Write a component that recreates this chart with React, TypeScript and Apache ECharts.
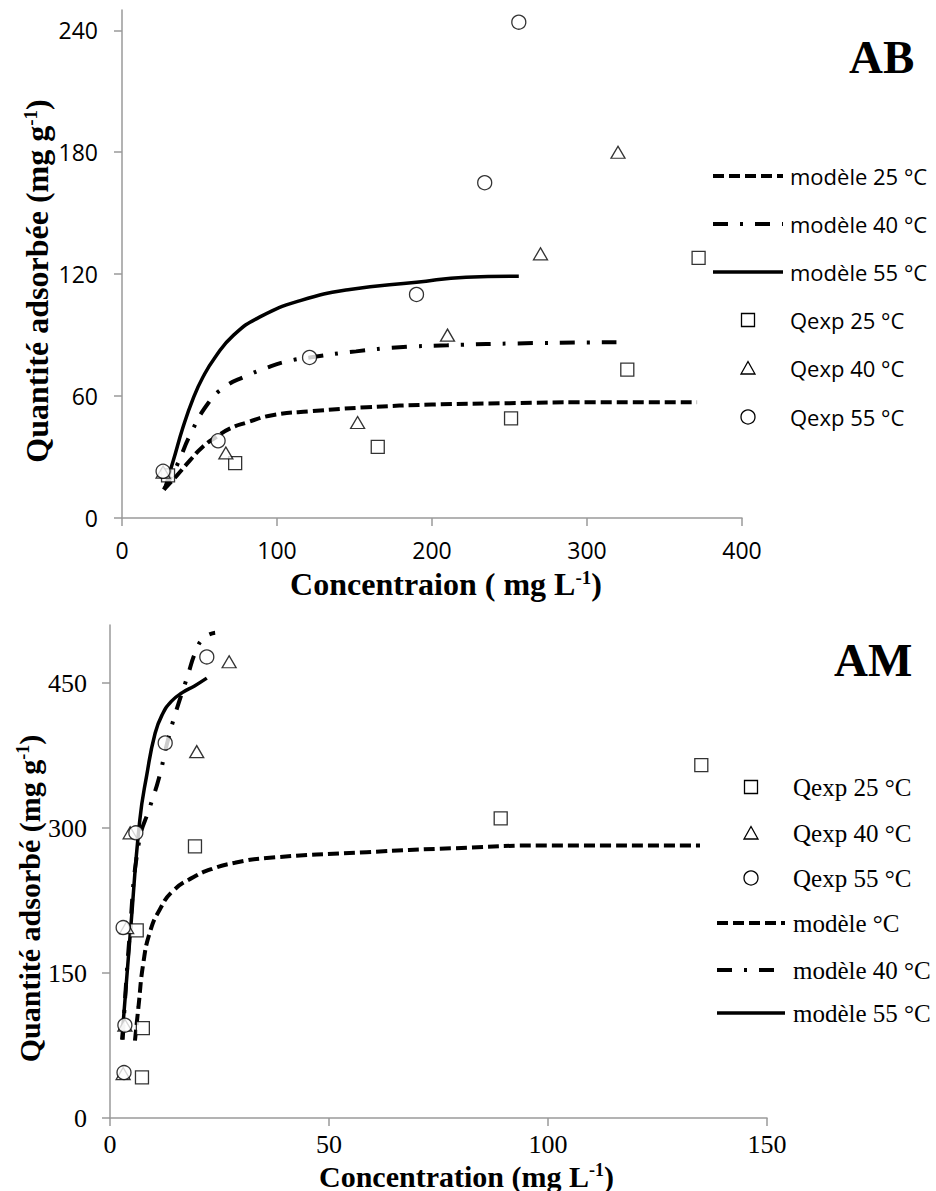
import React, { useEffect, useRef } from "react";
import * as echarts from "echarts";

// ---------- Chart AB ----------
const abTitle = "AB";
const abXTicks = [0, 100, 200, 300, 400];
const abYTicks = [0, 60, 120, 180, 240];
const abModelNames = ["modèle 25 °C", "modèle 40 °C", "modèle 55 °C"];
const abExpNames = ["Qexp 25 °C", "Qexp 40 °C", "Qexp 55 °C"];

const abModel25 = [
  [27, 14], [35.5, 21], [44, 28.5], [52, 35], [61, 40], [69.5, 44], [80.5, 47],
  [97, 50.6], [123, 52.6], [158, 54.5], [200, 55.8], [250, 56.5], [300, 57], [371, 57],
];
const abModel40 = [
  [27, 14], [35.5, 26], [44, 41], [55.7, 56.6], [66.5, 64.6], [79, 69.5],
  [93.5, 74], [106, 77], [121, 79], [151, 82], [179, 84], [210, 85], [260, 86], [319, 86.5],
];
const abModel55 = [
  [27.7, 14.7], [33, 28], [39.5, 45], [46, 59], [52, 69], [60, 79], [72, 90], [89, 99],
  [115, 107], [147, 112.5], [190, 116], [222, 118.5], [256, 119],
];
const abExp25 = [[29.7, 21], [73, 27], [165, 35], [251, 49], [326, 73], [372, 128]];
const abExp40 = [[26.5, 22.6], [67, 32], [152, 47], [210, 90], [270, 130], [320, 180]];
const abExp55 = [[26.5, 23], [62, 38], [121, 79], [190, 110], [234, 165], [256, 244]];

// ---------- Chart AM ----------
const amTitle = "AM";
const amXTicks = [0, 50, 100, 150];
const amYTicks = [0, 150, 300, 450];
const amModelNames = ["modèle °C", "modèle 40 °C", "modèle 55 °C"];
const amExpNames = ["Qexp 25 °C", "Qexp 40 °C", "Qexp 55 °C"];

const amModel25 = [
  [5.7, 80], [6.5, 115], [7.6, 160], [9.1, 192], [11.4, 216], [14.4, 235], [19, 249],
  [23.5, 258], [28.5, 264], [35.8, 269], [58.6, 275], [78, 279], [100, 282], [134.7, 282],
];
const amModel40 = [
  [2.9, 81], [4.5, 190], [6.6, 285], [9.2, 323], [11.2, 352], [13, 387],
  [14.9, 418], [17.7, 457], [19.6, 483], [21.5, 497], [24, 502],
];
const amModel55 = [
  [2.7, 81], [4.7, 195], [6.8, 308], [8.4, 355], [10.3, 398], [12, 418],
  [14, 431], [16.5, 440], [19.3, 447], [22.1, 455],
];
const amExp25 = [[7.3, 42], [7.5, 93], [6.1, 194], [19.4, 281], [89.2, 310], [135, 365]];
const amExp40 = [[3.0, 46], [3.4, 96], [3.8, 197], [4.6, 295], [19.8, 379], [27.2, 472]];
const amExp55 = [[3.2, 47], [3.4, 96], [3.0, 197], [5.9, 295], [12.6, 388], [22.1, 477]];

// ---------- styles ----------
const SANS = '"Open Sans", "Liberation Sans", sans-serif';
const SERIF = '"Liberation Serif", "Times New Roman", serif';
const DASH = [11, 5];
const DASHDOT = [15, 12, 3, 12];
const lineStyles = [
  { type: DASH, width: 4 },
  { type: DASHDOT, width: 4 },
  { type: "solid", width: 3.5 },
];
const symbols = ["rect", "triangle", "circle"];
const symbolSizes: any[] = [13, [14, 12], 14];
const markerStyle = { color: "#fff", borderColor: "#000", borderWidth: 1.3 };

function lineSeries(name: string, data: number[][], idx: number, axis: number) {
  return {
    type: "line",
    name,
    data,
    xAxisIndex: axis,
    yAxisIndex: axis,
    symbol: "none",
    smooth: 0.5,
    lineStyle: { color: "#000", width: lineStyles[idx].width, type: lineStyles[idx].type, cap: "butt" },
    z: 2,
  };
}
function expSeries(name: string, data: number[][], idx: number, axis: number) {
  return {
    type: "scatter",
    name,
    data,
    xAxisIndex: axis,
    yAxisIndex: axis,
    symbol: symbols[idx],
    symbolSize: symbolSizes[idx],
    itemStyle: markerStyle,
    z: 3,
  };
}

function legendMarker(idx: number, cx: number, cy: number) {
  const st = { fill: "#fff", stroke: "#000", lineWidth: 1.3 };
  if (idx === 0) return { type: "rect", shape: { x: cx - 6.5, y: cy - 6.5, width: 13, height: 13 }, style: st };
  if (idx === 1)
    return { type: "polygon", shape: { points: [[cx, cy - 6.5], [cx - 7, cy + 6], [cx + 7, cy + 6]] }, style: st };
  return { type: "circle", shape: { cx, cy, r: 7 }, style: st };
}
function legendLine(idx: number, x1: number, x2: number, y: number) {
  const ls = lineStyles[idx];
  return {
    type: "line",
    shape: { x1, y1: y, x2, y2: y },
    style: { stroke: "#000", lineWidth: ls.width, lineDash: Array.isArray(ls.type) ? ls.type : null },
  };
}
function legendText(text: string, x: number, y: number, font: string) {
  return { type: "text", x, y, style: { text, font, fill: "#000", align: "left", verticalAlign: "middle" } };
}

function axisPair(
  grid: number, xMax: number, xTicks: number[], yMax: number, yTicks: number[],
  labelFont: { family: string; size: number }, xName: string, yName: string,
  xGap: number, yGap: number, xPad: number[], yPad: number[], xMargin: number, yMargin: number,
  titleSize: number
) {
  const axisLine = { show: true, lineStyle: { color: "#9a9a9a", width: 1.5 } };
  const axisTick = { show: true, length: 8, lineStyle: { color: "#9a9a9a", width: 1.5 } };
  const rich = {
    a: { fontFamily: SERIF, fontWeight: "bold", fontSize: titleSize, color: "#000", lineHeight: titleSize },
    s: { fontFamily: SERIF, fontWeight: "bold", fontSize: Math.round(titleSize * 0.6), color: "#000", verticalAlign: "top", lineHeight: Math.round(titleSize * 0.6) },
  };
  const x = {
    type: "value", gridIndex: grid, min: 0, max: xMax,
    axisLine, axisTick: { ...axisTick, customValues: xTicks },
    axisLabel: { customValues: xTicks, fontFamily: labelFont.family, fontSize: labelFont.size, lineHeight: labelFont.size - 4, color: "#000", margin: xMargin },
    splitLine: { show: false },
    name: xName, nameLocation: "middle", nameGap: xGap, nameMoveOverlap: false,
    nameTextStyle: { rich, padding: xPad },
  };
  const y = {
    type: "value", gridIndex: grid, min: 0, max: yMax,
    axisLine, axisTick: { ...axisTick, customValues: yTicks },
    axisLabel: { customValues: yTicks, fontFamily: labelFont.family, fontSize: labelFont.size, color: "#000", margin: yMargin },
    splitLine: { show: false },
    name: yName, nameLocation: "middle", nameGap: yGap, nameMoveOverlap: false,
    nameTextStyle: { rich, padding: yPad },
  };
  return { x, y };
}

export default function App() {
  const ref = useRef<HTMLDivElement>(null);
  useEffect(() => {
    document.body.style.margin = "0";
    if (!ref.current) return;
    const chart = echarts.init(ref.current, null, { renderer: "svg" });

    const ab = axisPair(
      0, 400, abXTicks, 250, abYTicks, { family: SANS, size: 23 },
      "{a|Concentraion ( mg L}{s|-1}{a|)}", "{a|Quantité adsorbée (mg g}{s|-1}{a|)}",
      50, 69, [0, 0, 0, 28], [0, 34, 0, 0], 22, 24, 32
    );
    const am = axisPair(
      1, 150, amXTicks, 510, amYTicks, { family: SERIF, size: 26 },
      "{a|Concentration (mg L}{s|-1}{a|)}", "{a|Quantité adsorbé (mg g}{s|-1}{a|)}",
      43, 66, [0, 0, 0, 56], [0, 54, 0, 0], 15, 23, 30
    );

    const abModels = [abModel25, abModel40, abModel55];
    const abExps = [abExp25, abExp40, abExp55];
    const amModels = [amModel25, amModel40, amModel55];
    const amExps = [amExp25, amExp40, amExp55];

    const series: any[] = [];
    abModels.forEach((d, i) => series.push(lineSeries(abModelNames[i], d, i, 0)));
    abExps.forEach((d, i) => series.push(expSeries(abExpNames[i], d, i, 0)));
    amModels.forEach((d, i) => series.push(lineSeries(amModelNames[i], d, i, 1)));
    amExps.forEach((d, i) => series.push(expSeries(amExpNames[i], d, i, 1)));

    const graphics: any[] = [];
    // AB legend: model lines first, then experimental markers
    const abFont = `22px ${SANS}`;
    const abYs = [176, 224, 272, 320, 368, 417];
    abModelNames.forEach((n, i) => {
      graphics.push(legendLine(i, 713, 783, abYs[i]));
      graphics.push(legendText(n, 790, abYs[i], abFont));
    });
    abExpNames.forEach((n, i) => {
      graphics.push(legendMarker(i, 748, abYs[i + 3]));
      graphics.push(legendText(n, 790, abYs[i + 3], abFont));
    });
    // AM legend: experimental markers first, then model lines
    const amFont = `25px ${SERIF}`;
    const amYs = [787, 833, 878, 923, 970, 1013];
    amExpNames.forEach((n, i) => {
      graphics.push(legendMarker(i, 751, amYs[i]));
      graphics.push(legendText(n, 793, amYs[i], amFont));
    });
    amModelNames.forEach((n, i) => {
      graphics.push(legendLine(i, 717, 785, amYs[i + 3]));
      graphics.push(legendText(n, 793, amYs[i + 3], amFont));
    });
    // panel labels
    graphics.push(legendText(abTitle, 849, 57, `bold 47px ${SERIF}`));
    graphics.push(legendText(amTitle, 834, 660, `bold 47px ${SERIF}`));

    chart.setOption({
      animation: false,
      backgroundColor: "#fff",
      grid: [
        { left: 122, top: 10, width: 620, height: 508, outerBoundsMode: "none", containLabel: false },
        { left: 110, top: 625, width: 657, height: 493, outerBoundsMode: "none", containLabel: false },
      ],
      xAxis: [ab.x, am.x],
      yAxis: [ab.y, am.y],
      series,
      graphic: graphics,
    });
    return () => chart.dispose();
  }, []);
  return <div ref={ref} style={{ width: 936, height: 1191 }} />;
}
